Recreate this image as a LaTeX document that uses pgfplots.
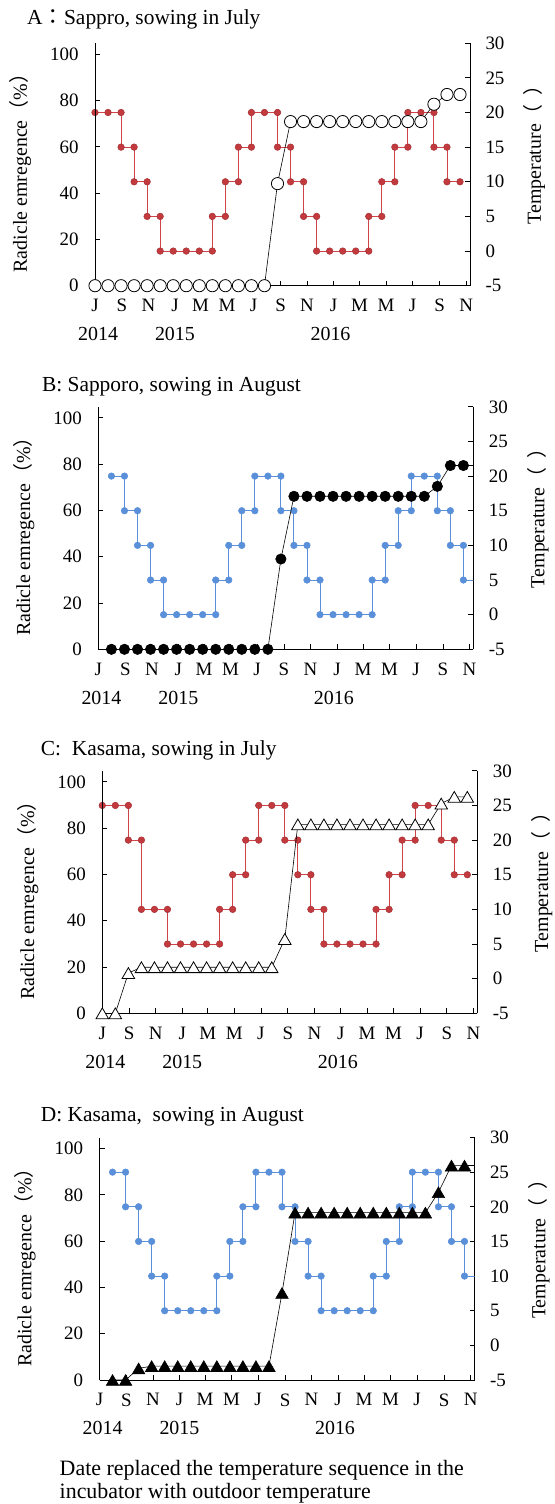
\documentclass[border=0pt]{standalone}
\usepackage{fontspec}
\setmainfont{Liberation Serif}
\newfontfamily\cjk{Noto Sans CJK JP}
\usepackage{pgfplots}
\pgfplotsset{compat=1.18}

\definecolor{tred}{HTML}{C33A3E}
\definecolor{tredline}{HTML}{CF4448}
\definecolor{tblue}{HTML}{5A8FD9}

\newcommand{\tfont}{\fontsize{19}{19}\selectfont}
\newcommand{\lfont}{\fontsize{20}{20}\selectfont}
\newcommand{\hfont}{\fontsize{21.5}{21.5}\selectfont}

\pgfplotsset{
  panel/.style={
    scale only axis, width=375bp, height=242.5bp,
    xmin=0, xmax=863,
    /pgf/number format/assume math mode=true,
    tick label style={font=\tfont},
    label style={font=\lfont},
    axis line style={line width=0.8bp},
    tick style={line width=0.8bp, black},
    major tick length=5bp,
    tick align=inside,
    anchor=south west,
  },
  temp/.style={panel,
    axis x line*=bottom, axis y line*=right,
    ymin=-5, ymax=30, ytick={-5,0,...,30},
    xtick={0,62,123,184,243,304,365,427,488,549,609,670,731,793,854},
    xticklabels={J,S,N,J,M,M,J,S,N,J,M,M,J,S,N},
    xticklabel style={yshift=-10bp},
    yticklabel style={xshift=12bp},
    extra x ticks={7,184,542},
    extra x tick labels={2014,2015,2016},
    extra x tick style={major tick length=0pt, xticklabel style={yshift=-28bp, font=\lfont}},
    ylabel={Temperature{\cjk （}\hspace{0.45em}{\cjk ）}},
    ylabel style={at={(axis description cs:1.172,0.56)}, anchor=center},
  },
  emer/.style={panel,
    axis x line=none, axis y line*=left,
    ymin=0, ymax=104.76, ytick={0,20,...,100},
    yticklabel style={xshift=-13bp},
    ylabel={Radicle emregence{\cjk （}\%{\cjk ）}},
    ylabel style={at={(axis description cs:-0.199,0.485)}, anchor=center},
  },
  tstep/.style={line width=0.9bp, mark=*, mark size=3.3bp},
  redstep/.style={tstep, color=tredline, mark options={fill=tred, draw=tred!85!black, line width=0.5bp}},
  bluestep/.style={tstep, color=tblue, mark options={fill=tblue, draw=tblue, line width=0.5bp}},
  emline/.style={black, line width=0.6bp},
}

\begin{document}
\begin{tikzpicture}
\useasboundingbox (0,0) rectangle (555bp,-1504bp);

% ---------- A ----------
\node[anchor=base west, inner sep=0, font=\hfont] at (27bp,-24bp) {A{\cjk ：}Sappro, sowing in July};
\begin{axis}[temp, at={(95bp,-285.7bp)}]
\addplot[redstep] coordinates {(0,20)(30,20)(60,20)(60,15)(90,15)(90,10)(120,10)(120,5)(150,5)(150,0)(180,0)(210,0)(240,0)(270,0)(270,5)(300,5)(300,10)(330,10)(330,15)(360,15)(360,20)(390,20)(420,20)(420,15)(450,15)(450,10)(480,10)(480,5)(510,5)(510,0)(540,0)(570,0)(600,0)(630,0)(630,5)(660,5)(660,10)(690,10)(690,15)(720,15)(720,20)(750,20)(780,20)(780,15)(810,15)(810,10)(840,10)};
\end{axis}
\begin{axis}[emer, at={(95bp,-285.7bp)}]
\addplot[emline, mark=*, mark size=6.1bp, mark options={fill=white, line width=0.8bp}] coordinates {(0,0)(30,0)(60,0)(90,0)(120,0)(150,0)(180,0)(210,0)(240,0)(270,0)(300,0)(330,0)(360,0)(390,0)(420,44.1)(450,70.9)(480,70.9)(510,70.9)(540,70.9)(570,70.9)(600,70.9)(630,70.9)(660,70.9)(690,70.9)(720,70.9)(750,70.9)(780,78.4)(810,82.6)(840,82.6)};
\end{axis}

% ---------- B ----------
\node[anchor=base west, inner sep=0, font=\hfont] at (41.8bp,-391.7bp) {B: Sapporo, sowing in August};
\begin{axis}[temp, at={(98.4bp,-649.3bp)}]
\addplot[bluestep] coordinates {(30,20)(60,20)(60,15)(90,15)(90,10)(120,10)(120,5)(150,5)(150,0)(180,0)(210,0)(240,0)(270,0)(270,5)(300,5)(300,10)(330,10)(330,15)(360,15)(360,20)(390,20)(420,20)(420,15)(450,15)(450,10)(480,10)(480,5)(510,5)(510,0)(540,0)(570,0)(600,0)(630,0)(630,5)(660,5)(660,10)(690,10)(690,15)(720,15)(720,20)(750,20)(780,20)(780,15)(810,15)(810,10)(840,10)(840,5)};
\addplot[tblue, line width=0.9bp, no marks, forget plot] coordinates {(840,5)(870,5)};
\end{axis}
\begin{axis}[emer, at={(98.4bp,-649.3bp)}]
\addplot[emline, mark=*, mark size=5.2bp, mark options={fill=black}] coordinates {(30,0)(60,0)(90,0)(120,0)(150,0)(180,0)(210,0)(240,0)(270,0)(300,0)(330,0)(360,0)(390,0)(420,39.0)(450,66.1)(480,66.1)(510,66.1)(540,66.1)(570,66.1)(600,66.1)(630,66.1)(660,66.1)(690,66.1)(720,66.1)(750,66.1)(780,70.4)(810,79.4)(840,79.4)};
\addplot[emline, no marks, forget plot] coordinates {(840,79.4)(870,79.4)};
\end{axis}

% ---------- C ----------
\node[anchor=base west, inner sep=0, font=\hfont] at (40.7bp,-755bp) {C:\ \ Kasama, sowing in July};
\begin{axis}[temp, at={(102.3bp,-1013.3bp)}]
\addplot[redstep] coordinates {(0,25)(30,25)(60,25)(60,20)(90,20)(90,10)(120,10)(150,10)(150,5)(180,5)(210,5)(240,5)(270,5)(270,10)(300,10)(300,15)(330,15)(330,20)(360,20)(360,25)(390,25)(420,25)(420,20)(450,20)(450,15)(480,15)(480,10)(510,10)(510,5)(540,5)(570,5)(600,5)(630,5)(630,10)(660,10)(660,15)(690,15)(690,20)(720,20)(720,25)(750,25)(780,25)(780,20)(810,20)(810,15)(840,15)};
\end{axis}
\begin{axis}[emer, at={(102.3bp,-1013.3bp)}]
\addplot[emline, mark=triangle*, mark size=7.2bp, mark options={fill=white, line width=0.8bp, yshift=-1.8bp}] coordinates {(0,0)(30,0)(60,17.4)(90,19.9)(120,19.9)(150,19.9)(180,19.9)(210,19.9)(240,19.9)(270,19.9)(300,19.9)(330,19.9)(360,19.9)(390,19.9)(420,32.1)(450,81.6)(480,81.6)(510,81.6)(540,81.6)(570,81.6)(600,81.6)(630,81.6)(660,81.6)(690,81.6)(720,81.6)(750,81.6)(780,90.6)(810,93.5)(840,93.5)};
\end{axis}

% ---------- D ----------
\node[anchor=base west, inner sep=0, font=\hfont] at (40.7bp,-1121.7bp) {D: Kasama,\ \ sowing in August};
\begin{axis}[temp, at={(99.5bp,-1380bp)}]
\addplot[bluestep] coordinates {(30,25)(60,25)(60,20)(90,20)(90,15)(120,15)(120,10)(150,10)(150,5)(180,5)(210,5)(240,5)(270,5)(270,10)(300,10)(300,15)(330,15)(330,20)(360,20)(360,25)(390,25)(420,25)(420,20)(450,20)(450,15)(480,15)(480,10)(510,10)(510,5)(540,5)(570,5)(600,5)(630,5)(630,10)(660,10)(660,15)(690,15)(690,20)(720,20)(720,25)(750,25)(780,25)(780,20)(810,20)(810,15)(840,15)(840,10)};
\addplot[tblue, line width=0.9bp, no marks, forget plot] coordinates {(840,10)(870,10)};
\end{axis}
\begin{axis}[emer, at={(99.5bp,-1380bp)}]
\addplot[emline, mark=triangle*, mark size=7.2bp, mark options={fill=black, yshift=-1.8bp}] coordinates {(30,0)(60,0)(90,5.0)(120,6.0)(150,6.0)(180,6.0)(210,6.0)(240,6.0)(270,6.0)(300,6.0)(330,6.0)(360,6.0)(390,6.0)(420,37.6)(450,72.3)(480,72.3)(510,72.3)(540,72.3)(570,72.3)(600,72.3)(630,72.3)(660,72.3)(690,72.3)(720,72.3)(750,72.3)(780,81.1)(810,92.6)(840,92.6)};
\addplot[emline, no marks, forget plot] coordinates {(840,92.6)(870,92.6)};
\end{axis}

% ---------- note ----------
\node[anchor=base west, inner sep=0, font=\fontsize{22}{22}\selectfont] at (59.5bp,-1475bp) {Date replaced the temperature sequence in the};
\node[anchor=base west, inner sep=0, font=\fontsize{22}{22}\selectfont] at (59.5bp,-1498.3bp) {incubator with outdoor temperature};
\end{tikzpicture}
\end{document}
